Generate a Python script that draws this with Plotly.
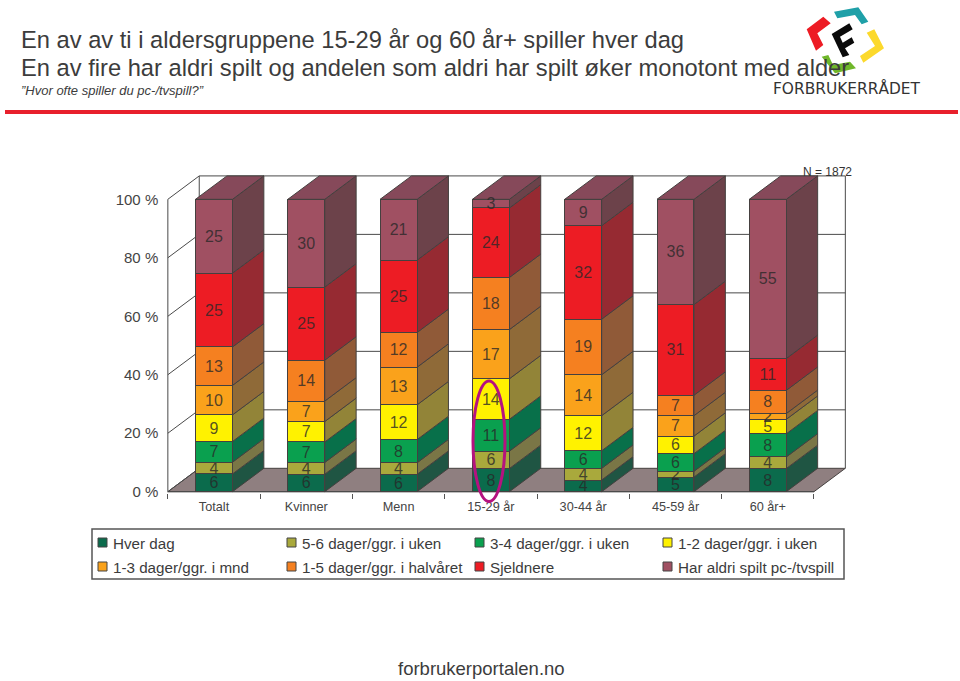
import plotly.graph_objects as go

categories = ["Totalt", "Kvinner", "Menn", "15-29 år", "30-44 år", "45-59 år", "60 år+"]
series_names = ["Hver dag", "5-6 dager/ggr. i uken", "3-4 dager/ggr. i uken", "1-2 dager/ggr. i uken",
                "1-3 dager/ggr. i mnd", "1-5 dager/ggr. i halvåret", "Sjeldnere", "Har aldri spilt pc-/tvspill"]
hver_dag = [6, 6, 6, 8, 4, 5, 8]
dager_5_6 = [4, 4, 4, 6, 4, 2, 4]
dager_3_4 = [7, 7, 8, 11, 6, 6, 8]
dager_1_2 = [9, 7, 12, 14, 12, 6, 5]
mnd_1_3 = [10, 7, 13, 17, 14, 7, 2]
halvaar_1_5 = [13, 14, 12, 18, 19, 7, 8]
sjeldnere = [25, 25, 25, 24, 32, 31, 11]
aldri = [25, 30, 21, 3, 9, 36, 55]
y_ticks = [0, 20, 40, 60, 80, 100]

series = [hver_dag, dager_5_6, dager_3_4, dager_1_2, mnd_1_3, halvaar_1_5, sjeldnere, aldri]
front_colors = ["#0b6b4c", "#a9a93c", "#0aa04f", "#fff200", "#faa21b", "#f58020", "#ed1c24", "#a05062"]
side_colors = ["#1f5543", "#7a7646", "#08704a", "#928438", "#8f6a38", "#905a38", "#962a32", "#6c424a"]
top_color = "#86495a"
floor_color = "#8f7f80"
line_color = "#45403f"
text_color = "#3c3c3c"
font = "Liberation Sans"

W, H = 960, 681
# pixel position of the front plane
X0, UX = 214.0, 92.3
Y0, UY = 491.7, 2.924
DX, DY = 0.34, 8.0
BAR_W = 0.4
x_range = [-0.55, 6.9]
y_range = [-0.5, 110]


def px(x, y):
    # pixels -> paper coords, for the things outside the plot
    return x / W, 1 - y / H


def poly(points, fill, line=line_color, width=1, layer="below", xref="x", yref="y"):
    path = "M" + "L".join(f"{a},{b}" for a, b in points) + "Z"
    return dict(type="path", path=path, xref=xref, yref=yref, fillcolor=fill, layer=layer,
                line=dict(color=line, width=width))


def seg(x0, y0, x1, y1, color="#4a4a4a", width=1):
    return dict(type="line", x0=x0, y0=y0, x1=x1, y1=y1, xref="x", yref="y", layer="below",
                line=dict(color=color, width=width))


def paper_poly(points, fill):
    pts = [px(a, b) for a, b in points]
    return poly(pts, fill, line=fill, width=0, layer="above", xref="paper", yref="paper")


fig = go.Figure()

# Stacked bars, normalised to 100 %
for name, values, color in zip(series_names, series, front_colors):
    fig.add_trace(go.Bar(
        x=list(range(len(categories))), y=values, name=name, width=BAR_W,
        marker=dict(color=color, line=dict(color=line_color, width=1)),
        text=values, textposition="inside", insidetextanchor="middle", textangle=0,
        constraintext="none", cliponaxis=False,
        textfont=dict(family=font, size=16, color="rgba(40,40,40,0.8)"),
    ))

shapes = []
# Floor and walls
shapes.append(poly([(-0.5, 0), (6.5, 0), (6.5 + DX, DY), (-0.5 + DX, DY)], floor_color))
shapes.append(seg(-0.5, 0, -0.5, 100))
shapes.append(seg(-0.5 + DX, DY, -0.5 + DX, 100 + DY))
shapes.append(seg(6.5 + DX, DY, 6.5 + DX, 100 + DY))
shapes.append(seg(-0.5, 0, 6.5, 0))
for t in y_ticks:
    shapes.append(seg(-0.5, t, -0.5 + DX, t + DY))
    if t > 0:
        shapes.append(seg(-0.5 + DX, t + DY, 6.5 + DX, t + DY))

# Side and top faces of the bars
for i in range(len(categories)):
    total = sum(s[i] for s in series)
    right = i + BAR_W / 2
    left = i - BAR_W / 2
    bottom = 0
    for values, color in zip(series, side_colors):
        top = bottom + values[i] / total * 100
        shapes.append(poly([(right, bottom), (right + DX, bottom + DY), (right + DX, top + DY), (right, top)], color))
        bottom = top
    shapes.append(poly([(left, 100), (right, 100), (right + DX, 100 + DY), (left + DX, 100 + DY)], top_color))

# Ring around the 15-29 bar
shapes.append(dict(type="circle", xref="paper", yref="paper",
                   x0=px(473, 0)[0], x1=px(505, 0)[0], y0=px(0, 381)[1], y1=px(0, 501.5)[1],
                   layer="above", line=dict(color="#b5127f", width=3)))

# Red rule under the title
shapes.append(paper_poly([(5, 110), (958, 110), (958, 114), (5, 114)], "#e8202c"))

# Logo
shapes.append(paper_poly([(806.7, 29.3), (823.3, 16.7), (830.7, 23.3), (817.3, 33.3), (823.3, 45), (816, 50.7)], "#ed1c24"))
shapes.append(paper_poly([(834, 11.7), (858.3, 7.3), (868.3, 21.7), (861.7, 24.3), (855, 15), (837.3, 18.3)], "#1fa0a8"))
shapes.append(paper_poly([(866.7, 32.7), (874.3, 29.3), (884, 48.3), (863.3, 62.7), (860, 56), (875, 46)], "#fcd92c"))
shapes.append(paper_poly([(821.7, 56.7), (828.3, 55), (833, 65), (850, 61.7), (856, 68.3), (835, 73.3)], "#6fb72a"))
shapes.append(paper_poly([(831.7, 34), (849.3, 23.3), (852.7, 29.3), (840, 36.7), (842.7, 42.7), (851.7, 37.3),
                          (854.3, 42.7), (845, 48.3), (849.3, 55), (842.7, 57.3)], "#0a0a0a"))

# Legend box, laid out by hand in four columns
shapes.append(dict(type="rect", xref="paper", yref="paper", x0=px(92, 0)[0], x1=px(844, 0)[0],
                   y0=px(0, 529)[1], y1=px(0, 579)[1], layer="above", line=dict(color="#555555", width=1.5)))
annotations = []


def text(x, y, s, size, anchor="left", color=text_color, italic=False):
    xp, yp = px(x, y)
    annotations.append(dict(x=xp, y=yp, xref="paper", yref="paper", text=s, showarrow=False,
                            xanchor=anchor, yanchor="middle", align=anchor,
                            font=dict(family=font, size=size, color=color, style="italic" if italic else "normal")))


legend_x = [98, 287, 475, 663]
legend_y = [543, 567]
for k, (name, color) in enumerate(zip(series_names, front_colors)):
    lx, ly = legend_x[k % 4], legend_y[k // 4]
    shapes.append(dict(type="rect", xref="paper", yref="paper", x0=px(lx, 0)[0], x1=px(lx + 9, 0)[0],
                       y0=px(0, ly - 5)[1], y1=px(0, ly + 4)[1], fillcolor=color, layer="above",
                       line=dict(color="#444444", width=1)))
    text(lx + 13, ly, name, 15.2)

text(19, 40, "En av av ti i aldersgruppene 15-29 år og 60 år+ spiller hver dag", 23.7)
text(19, 68, "En av fire har aldri spilt og andelen som aldri har spilt øker monotont med alder", 23.7)
text(19, 90, "”Hvor ofte spiller du pc-/tvspill?”", 13, italic=True)
text(481, 668, "forbrukerportalen.no", 18.5, anchor="center")
text(827, 172, "N = 1872", 12, anchor="center", color="#333333")
xp, yp = px(846, 88)
annotations.append(dict(x=xp, y=yp, xref="paper", yref="paper", text="FORBRUKERRÅDET", showarrow=False,
                        xanchor="center", yanchor="middle", font=dict(family="DejaVu Sans", size=15.4, color="#333333")))

left = X0 + x_range[0] * UX
right = X0 + x_range[1] * UX
bottom = Y0 - y_range[0] * UY
top = Y0 - y_range[1] * UY

fig.update_layout(
    width=W, height=H, barmode="stack", barnorm="percent", showlegend=False,
    paper_bgcolor="white", plot_bgcolor="white",
    margin=dict(l=0, r=0, t=0, b=0, autoexpand=False, pad=0),
    shapes=shapes, annotations=annotations,
    font=dict(family=font, color=text_color),
)
fig.update_xaxes(domain=[left / W, right / W], range=x_range, tickvals=list(range(len(categories))), ticktext=categories,
                 showgrid=False, zeroline=False, ticks="", tickfont=dict(size=12.7, color="#444444"), ticklen=0,
                 ticklabelstandoff=4,
                 minor=dict(tickvals=[k - 0.5 for k in range(len(categories) + 1)], ticks="outside",
                            ticklen=5, tickcolor="#555555", showgrid=False))
fig.update_yaxes(domain=[1 - bottom / H, 1 - top / H], range=y_range, tickvals=y_ticks,
                 ticktext=[f"{t} %" for t in y_ticks], showgrid=False, zeroline=False, ticks="",
                 ticklabelstandoff=4, tickfont=dict(size=15, color="#444444"))

fig.write_html("out.html", config={"displayModeBar": False},
               post_script="document.body.style.margin='0';document.documentElement.style.overflow='hidden';")
